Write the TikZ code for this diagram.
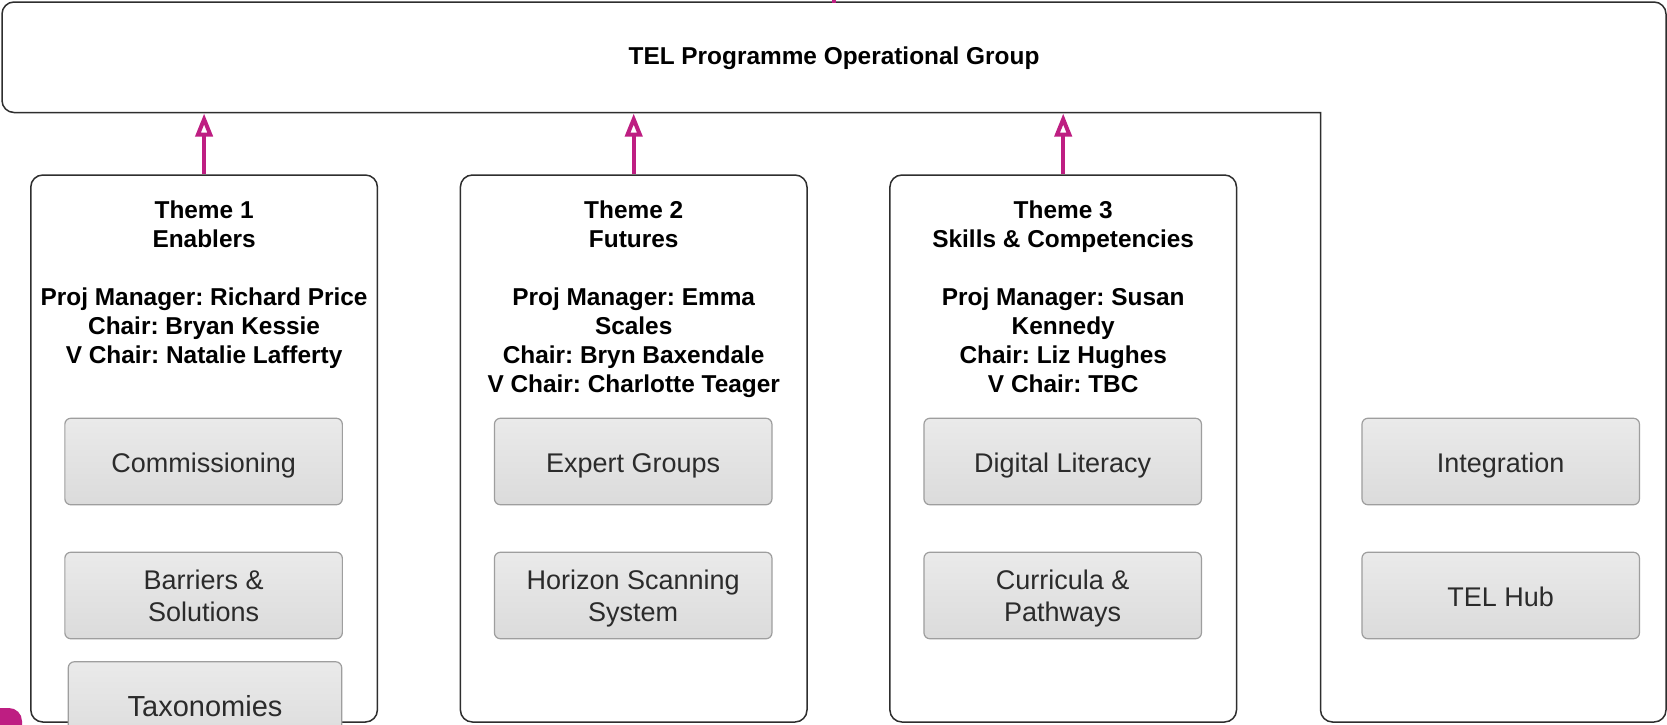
\documentclass[tikz,border=0pt]{standalone}
\usepackage{fontspec}
\setmainfont{Liberation Sans}
\frenchspacing
\usetikzlibrary{arrows.meta,shadows}
\definecolor{tpink}{HTML}{BE1E82}
\definecolor{tline}{HTML}{2E2E2E}
\definecolor{gtop}{HTML}{EAEAEA}
\definecolor{gbot}{HTML}{DBDBDB}
\definecolor{gborder}{HTML}{9E9E9E}
\definecolor{gtext}{HTML}{2B2B2B}
\newcommand{\gl}[1]{\begin{tabular}[t]{@{}c@{}}#1\end{tabular}}
\begin{document}
\begin{tikzpicture}[x=1pt,y=-1pt,
  themebox/.style={draw=tline, line width=1.5pt, rounded corners=12pt, minimum width=346.6pt, minimum height=547pt, inner sep=0pt},
  subbox/.style={draw=gborder, line width=1.2pt, rounded corners=6pt, top color=gtop, bottom color=gbot, minimum width=277.5pt, minimum height=86.5pt, inner sep=0pt, text=gtext, font=\fontsize{27}{32}\selectfont, text height=22.4pt, text depth=0pt},
  twoline/.style={text height=0pt, text depth=13pt},
  taxbox/.style={subbox, minimum width=273.4pt, font=\fontsize{29}{32}\selectfont, text height=23.4pt, drop shadow={opacity=0.25, shadow xshift=0pt, shadow yshift=-2pt}},
  themetext/.style={anchor=base, inner sep=0pt, font=\bfseries\fontsize{24.4}{29}\selectfont},
  uparrow/.style={draw=tpink, line width=4pt, -{Triangle[open, length=23pt, width=17pt]}}
]
\useasboundingbox (0,0) rectangle (1667,724);
\begin{scope}
\clip (0,0) rectangle (1667,724);
\fill[white] (0,0) rectangle (1667,724);
% outer L-shaped frame
\draw[tline, line width=1.5pt] (1320.5,400) -- (1320.5,112.5) -- (700,112.5) [rounded corners=12pt] -- (2,112.5) -- (2,2) -- (1666,2) -- (1666,722) -- (1320.5,722) -- cycle;
\coordinate (barbottom) at (0,113.5);
\node[themetext] (title) at (834,64) {TEL Programme Operational Group};
% pink fragment at top
\fill[tpink] (832,0) rectangle (836,3);
% theme boxes
\node[themebox] (t1) at (204.1,448.5) {};
\node[themebox] (t2) at (633.7,448.5) {};
\node[themebox] (t3) at (1063.2,448.5) {};
\node[themetext] (t1txt) at (204.1,218) {\gl{Theme 1\\Enablers\\ \\Proj Manager: Richard Price\\Chair: Bryan Kessie\\V Chair: Natalie Lafferty}};
\node[themetext] (t2txt) at (633.7,218) {\gl{Theme 2\\Futures\\ \\Proj Manager: Emma\\Scales\\Chair: Bryn Baxendale\\V Chair: Charlotte Teager}};
\node[themetext] (t3txt) at (1063.2,218) {\gl{Theme 3\\Skills \& Competencies\\ \\Proj Manager: Susan\\Kennedy\\Chair: Liz Hughes\\V Chair: TBC}};
% arrows
\draw[uparrow] (t1.north) -- (t1.north |- barbottom);
\draw[uparrow] (t2.north) -- (t2.north |- barbottom);
\draw[uparrow] (t3.north) -- (t3.north |- barbottom);
% sub boxes
\node[subbox] (s11) at (203.6,461.5) {\gl{Commissioning}};
\node[subbox, twoline] (s12) at (203.6,595.5) {\gl{Barriers \&\\Solutions}};
\node[taxbox] (s13) at (205,705) {\gl{Taxonomies}};
\node[subbox] (s21) at (633.2,461.5) {\gl{Expert Groups}};
\node[subbox, twoline] (s22) at (633.2,595.5) {\gl{Horizon Scanning\\System}};
\node[subbox] (s31) at (1062.7,461.5) {\gl{Digital Literacy}};
\node[subbox, twoline] (s32) at (1062.7,595.5) {\gl{Curricula \&\\Pathways}};
\node[subbox] (s41) at (1500.7,461.5) {\gl{Integration}};
\node[subbox] (s42) at (1500.7,595.5) {\gl{TEL Hub}};
% pink blob bottom-left
\fill[tpink, rounded corners=13pt] (-40,708) rectangle (22,780);
\end{scope}
\end{tikzpicture}
\end{document}
